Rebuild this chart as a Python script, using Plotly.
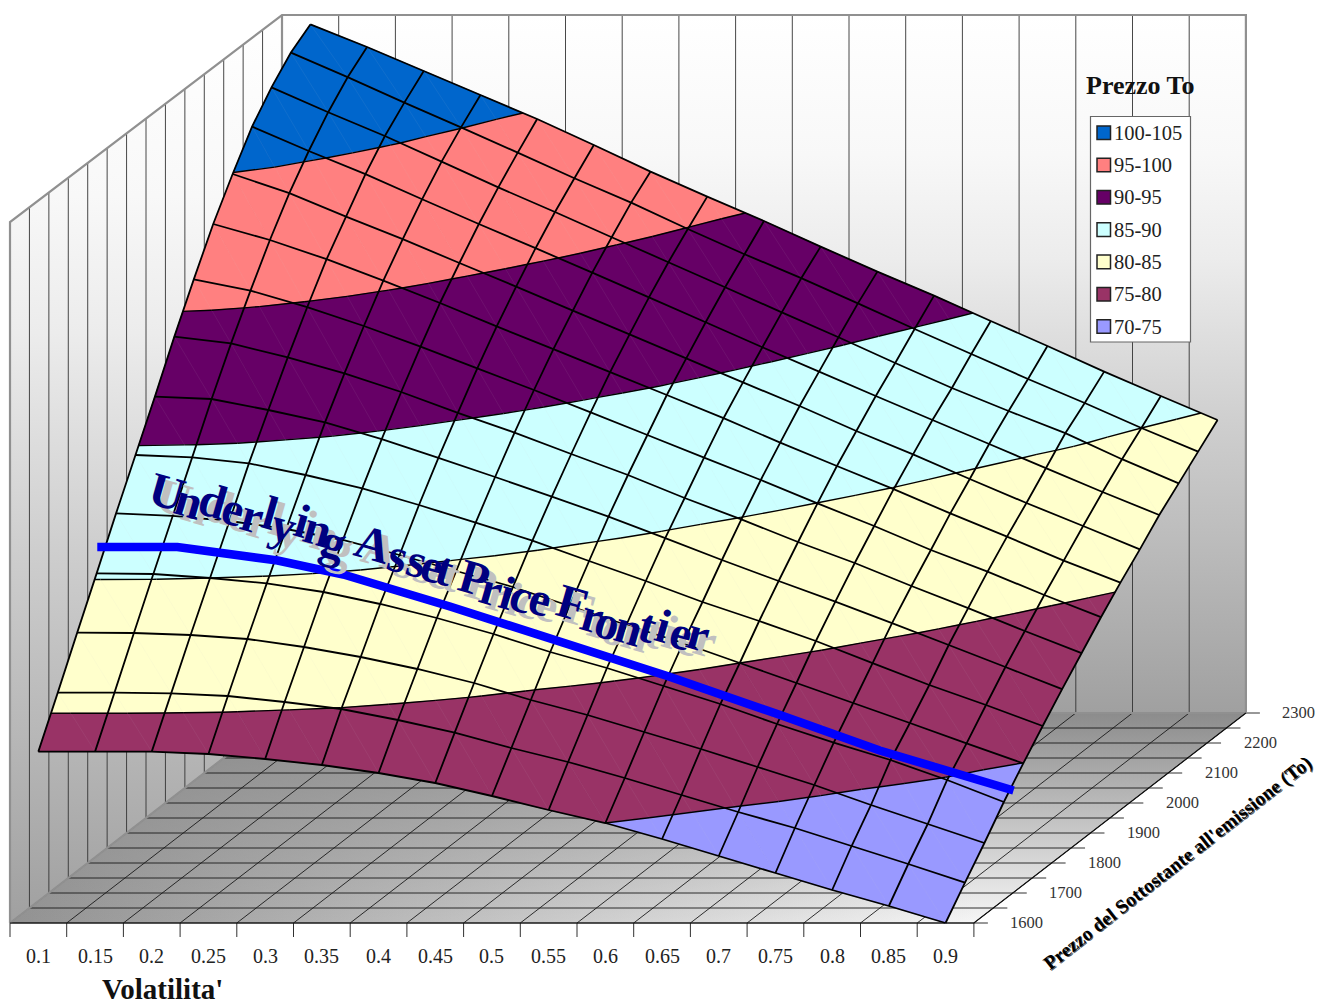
import plotly.graph_objects as go

# ---------- data ----------
volatility = [0.1, 0.15, 0.2, 0.25, 0.3, 0.35, 0.4, 0.45, 0.5, 0.55, 0.6, 0.65, 0.7, 0.75, 0.8, 0.85, 0.9]
vol_labels = ["0.1", "0.15", "0.2", "0.25", "0.3", "0.35", "0.4", "0.45", "0.5", "0.55", "0.6", "0.65", "0.7", "0.75", "0.8", "0.85", "0.9"]
underlying = [1600, 1650, 1700, 1750, 1800, 1850, 1900, 1950, 2000, 2050, 2100, 2150, 2200, 2250, 2300]
under_labels = [1600, 1700, 1800, 1900, 2000, 2100, 2200, 2300]

p1600 = [78.57, 78.57, 78.57, 78.45, 78.2, 77.9, 77.5, 77.0, 76.35, 75.65, 75.0, 74.2, 73.35, 72.5, 71.65, 70.85, 70.0]
p1650 = [80.77, 80.77, 80.73, 80.6, 80.3, 79.95, 79.4, 78.77, 78.0, 77.3, 76.5, 75.65, 74.8, 74.0, 73.1, 72.2, 71.27]
p1700 = [83.02, 83.0, 82.9, 82.7, 82.3, 81.8, 81.2, 80.5, 79.65, 78.9, 78.05, 77.2, 76.3, 75.4, 74.4, 73.45, 72.5]
p1750 = [85.23, 85.2, 85.0, 84.73, 84.3, 83.7, 83.0, 82.2, 81.3, 80.5, 79.6, 78.7, 77.7, 76.77, 75.9, 74.9, 73.8]
p1800 = [87.48, 87.36, 87.1, 86.7, 86.15, 85.4, 84.6, 83.8, 82.85, 81.9, 81.0, 80.0, 79.0, 78.0, 77.0, 75.98, 74.98]
p1850 = [89.65, 89.53, 89.23, 88.65, 87.98, 87.15, 86.27, 85.37, 84.35, 83.35, 82.3, 81.35, 80.35, 79.24, 78.15, 77.15, 76.1]
p1900 = [91.82, 91.7, 91.15, 90.53, 89.69, 88.76, 87.8, 86.82, 85.82, 84.74, 83.65, 82.6, 81.57, 80.49, 79.4, 78.3, 77.19]
p1950 = [94.07, 93.73, 93.03, 92.23, 91.3, 90.26, 89.27, 88.2, 87.15, 86.0, 84.93, 83.8, 82.75, 81.6, 80.49, 79.35, 78.24]
p2000 = [96.18, 95.62, 94.79, 93.85, 92.82, 91.73, 90.65, 89.53, 88.4, 87.27, 86.15, 84.98, 83.85, 82.65, 81.57, 80.4, 79.29]
p2050 = [98.2, 97.4, 96.44, 95.37, 94.25, 93.08, 91.94, 90.79, 89.65, 88.49, 87.27, 86.1, 84.94, 83.73, 82.57, 81.37, 80.27]
p2100 = [99.95, 98.99, 97.82, 96.69, 95.5, 94.32, 93.12, 91.93, 90.73, 89.53, 88.35, 87.1, 85.93, 84.7, 83.5, 82.35, 81.18]
p2150 = [101.57, 100.35, 99.19, 97.94, 96.7, 95.49, 94.27, 93.03, 91.79, 90.54, 89.32, 88.1, 86.9, 85.7, 84.49, 83.3, 82.15]
p2200 = [102.78, 101.54, 100.35, 99.07, 97.78, 96.55, 95.29, 94.04, 92.79, 91.53, 90.29, 89.0, 87.75, 86.6, 85.49, 84.19, 82.98]
p2250 = [103.77, 102.54, 101.27, 100.03, 98.77, 97.49, 96.27, 94.95, 93.69, 92.49, 91.23, 89.95, 88.7, 87.45, 86.25, 85.0, 83.82]
p2300 = [104.43, 103.3, 102.1, 100.9, 99.7, 98.4, 97.07, 95.82, 94.6, 93.32, 92.07, 90.87, 89.6, 88.35, 87.07, 85.85, 84.65]
price_rows = [p1600, p1650, p1700, p1750, p1800, p1850, p1900, p1950, p2000, p2050, p2100, p2150, p2200, p2250, p2300]

band_labels = ["100-105", "95-100", "90-95", "85-90", "80-85", "75-80", "70-75"]
band_low = [100, 95, 90, 85, 80, 75, 70]
band_colors = ["#0066CC", "#FF8080", "#660066", "#CCFFFF", "#FFFFCC", "#993366", "#9999FF"]

frontier_under = 1775
frontier_vol = [0.092, 0.1626, 0.251, 0.309, 0.403, 0.494, 0.596, 0.693, 0.782, 0.9]
frontier_price = [86.17, 86.17, 85.5, 84.8, 83.2, 81.6, 79.7, 77.8, 76.0, 74.0]

wordart = "Underlying Asset Price Frontier"
wordart_x = [167, 189, 213, 233, 252, 270, 284, 302, 318, 334, 0, 373, 398, 417, 432, 445, 0, 474, 491, 507, 521, 540, 0, 572, 592, 608, 629, 648, 663, 681, 698]
wordart_y = [491, 500, 500, 508, 515, 512, 525, 520, 528, 541, 0, 543, 555, 560, 565, 568, 0, 577, 588, 592, 595, 598, 0, 602, 615, 622, 627, 625, 625, 632, 633]

# ---------- oblique projection of the three chart axes onto the plot plane ----------
FX0, FY0 = 10.0, 923.0           # front-left floor corner
CELL = 56.7                      # width of one volatility category
DX, DY = 272.0, 210.0            # depth vector of the underlying axis
Z_PX = 20.0                      # height of one price point
ZMIN, ZMAX = 70.0, 105.0
NV = len(volatility)
NU = len(underlying)


def sx(col, row):
    return FX0 + CELL * (col + 0.5) + DX * row / (NU - 1)


def sy(row, z):
    return FY0 - DY * row / (NU - 1) - Z_PX * (z - ZMIN)


def wall_x(col, row):
    return FX0 + CELL * col + DX * row / (NU - 1)


def clip(poly, level, keep_above):
    out = []
    for a, b in zip(poly, poly[1:] + poly[:1]):
        ina = a[2] >= level if keep_above else a[2] <= level
        inb = b[2] >= level if keep_above else b[2] <= level
        if ina:
            out.append(a)
        if ina != inb:
            t = (level - a[2]) / (b[2] - a[2])
            out.append((a[0] + t * (b[0] - a[0]), a[1] + t * (b[1] - a[1]), level))
    return out


triangles = []
for r in range(NU - 1):
    for c in range(NV - 1):
        v00 = (c, r, price_rows[r][c])
        v10 = (c + 1, r, price_rows[r][c + 1])
        v01 = (c, r + 1, price_rows[r + 1][c])
        v11 = (c + 1, r + 1, price_rows[r + 1][c + 1])
        triangles.append([v00, v10, v01])
        triangles.append([v10, v11, v01])

fig = go.Figure()


def add_line(xs, ys, color="#222222", width=1.0, name=None):
    fig.add_trace(go.Scatter(x=xs, y=ys, mode="lines", line=dict(color=color, width=width, simplify=False),
                             hoverinfo="skip", showlegend=False, name=name))


# the plot's y axis runs downwards, so the gradients are listed bottom to top
wall_scale = [[0, "#a0a0a0"], [0.42, "#cfcfcf"], [0.65, "#ececec"], [0.8, "#f8f8f8"], [1, "#ffffff"]]
xl0, xl1 = wall_x(0, 0), wall_x(0, NU - 1)
TOPL, TOPB = 222.0, 15.0
BACKY = FY0 - DY
fig.add_trace(go.Scatter(x=[xl0, xl1, xl1, xl0, xl0], y=[TOPL, TOPB, BACKY, FY0, TOPL], mode="lines",
                         line=dict(width=0), fill="toself",
                         fillgradient=dict(type="vertical", colorscale=wall_scale),
                         hoverinfo="skip", showlegend=False))
xb1 = wall_x(NV, NU - 1)
fig.add_trace(go.Scatter(x=[xl1, xb1, xb1, xl1, xl1], y=[TOPB, TOPB, BACKY, BACKY, TOPB], mode="lines",
                         line=dict(width=0), fill="toself",
                         fillgradient=dict(type="vertical", colorscale=wall_scale),
                         hoverinfo="skip", showlegend=False))
xf1 = wall_x(NV, 0)
floor_x = [xl0, xf1, xb1, xl1, xl0]
floor_y = [FY0, FY0, BACKY, BACKY, FY0]
fig.add_trace(go.Scatter(x=floor_x, y=floor_y, mode="lines", line=dict(width=0), fill="toself",
                         fillgradient=dict(type="horizontal", colorscale=[[0, "#929292"], [0.78, "#f6f6f6"], [1, "#f6f6f6"]]),
                         hoverinfo="skip", showlegend=False))
fig.add_trace(go.Scatter(x=floor_x, y=floor_y, mode="lines", line=dict(width=0), fill="toself",
                         fillgradient=dict(type="vertical", colorscale=[[0, "rgba(140,140,140,0)"], [1, "rgba(140,140,140,1)"]]),
                         hoverinfo="skip", showlegend=False))

# wall and floor grid
xs, ys = [], []
for c in range(NV + 1):
    xs += [wall_x(c, NU - 1), wall_x(c, NU - 1), None]
    ys += [TOPB, BACKY, None]
for r in range(NU):
    t = r / (NU - 1)
    xs += [wall_x(0, r), wall_x(0, r), None]
    ys += [TOPL + (TOPB - TOPL) * t, sy(r, ZMIN), None]
add_line(xs, ys, "#333333", 0.9)
xs, ys = [], []
for c in range(NV + 1):
    xs += [wall_x(c, 0), wall_x(c, 0), None, wall_x(c, 0), wall_x(c, NU - 1), None]
    ys += [FY0, FY0 + 14, None, FY0, BACKY, None]
for r in range(NU):
    xs += [wall_x(0, r), wall_x(NV, r) + 14, None]
    ys += [sy(r, ZMIN), sy(r, ZMIN), None]
add_line(xs, ys, "#1a1a1a", 0.9)
add_line([xl0, xl0, xl1, xb1, xb1, xl1, xl0], [FY0, TOPL, TOPB, TOPB, BACKY, BACKY, FY0], "#909090", 2.2)
add_line([xl1, xl1], [TOPB, BACKY], "#909090", 2.2)
add_line([xl0, xf1, xb1], [FY0, FY0, BACKY], "#111111", 1.2)

# surface bands
for lab, low, col in zip(band_labels, band_low, band_colors):
    xs, ys = [], []
    for tri in triangles:
        poly = clip(tri, low, True)
        if poly:
            poly = clip(poly, low + 5, False)
        if len(poly) >= 3:
            for p in poly + poly[:1]:
                xs.append(sx(p[0], p[1]))
                ys.append(sy(p[1], p[2]))
            xs.append(None)
            ys.append(None)
    fig.add_trace(go.Scatter(x=xs, y=ys, mode="lines", fill="toself", fillcolor=col,
                             line=dict(color=col, width=0.6, simplify=False), name=lab,
                             hoverinfo="skip", showlegend=False))

# triangle seams
xs, ys = [], []
for r in range(NU - 1):
    for c in range(NV - 1):
        xs += [sx(c, r + 1), sx(c + 1, r), None]
        ys += [sy(r + 1, price_rows[r + 1][c]), sy(r, price_rows[r][c + 1]), None]
add_line(xs, ys, "rgba(200,200,200,0.16)", 0.5)

# band boundaries
xs, ys = [], []
for level in band_low[:-1]:
    for tri in triangles:
        pts = []
        for a, b in zip(tri, tri[1:] + tri[:1]):
            if (a[2] < level) != (b[2] < level):
                t = (level - a[2]) / (b[2] - a[2])
                pts.append((a[0] + t * (b[0] - a[0]), a[1] + t * (b[1] - a[1])))
        if len(pts) == 2:
            for p in pts:
                xs.append(sx(p[0], p[1]))
                ys.append(sy(p[1], level))
            xs.append(None)
            ys.append(None)
add_line(xs, ys, "#000000", 1.4)

# surface grid
xs, ys = [], []
for r in range(NU):
    for c in range(NV):
        xs.append(sx(c, r))
        ys.append(sy(r, price_rows[r][c]))
    xs.append(None)
    ys.append(None)
for c in range(NV):
    for r in range(NU):
        xs.append(sx(c, r))
        ys.append(sy(r, price_rows[r][c]))
    xs.append(None)
    ys.append(None)
add_line(xs, ys, "#000000", 1.8)

# frontier line
fx = [FX0 + CELL * ((v - volatility[0]) / 0.05 + 0.5) + DX * (frontier_under - underlying[0]) / (underlying[-1] - underlying[0]) for v in frontier_vol]
fy = [sy((frontier_under - underlying[0]) / 50.0, z) for z in frontier_price]
fig.add_trace(go.Scatter(x=fx, y=fy, mode="lines", line=dict(color="#0000FF", width=8.5),
                         hoverinfo="skip", showlegend=False, name="Underlying Asset Price Frontier"))

# ---------- text ----------
ann = []
SERIF = "Liberation Serif"
for c, lab in enumerate(vol_labels):
    ann.append(dict(x=wall_x(c, 0) + CELL / 2, y=956, text=lab, showarrow=False,
                    font=dict(family=SERIF, size=20, color="#222222")))
for u in under_labels:
    r = underlying.index(u)
    ann.append(dict(x=wall_x(NV, r) + 53, y=sy(r, ZMIN) - 1, text=str(u), showarrow=False,
                    font=dict(family=SERIF, size=16.5, color="#333333")))
ann.append(dict(x=162, y=989, text="Volatilita'", showarrow=False,
                font=dict(family=SERIF, size=29, color="#111111", weight="bold")))
for dx_, col_ in ((0.7, "#555555"), (0, "#000000")):
    ann.append(dict(x=1178 + dx_, y=863 + dx_, text="Prezzo del Sottostante all'emissione (To)", showarrow=False,
                    textangle=-38, font=dict(family=SERIF, size=19.5, color=col_, weight="bold")))
ann.append(dict(x=1140, y=85, text="Prezzo To", showarrow=False,
                font=dict(family=SERIF, size=26, color="#111111", weight="bold")))

for (ox, oy, colr) in ((7, 6, "#C0C0C0"), (0, 0, "#000080")):
    for ch, lx, ly in zip(wordart, wordart_x, wordart_y):
        if ch == " ":
            continue
        ann.append(dict(x=lx + ox, y=ly + oy, text=ch, showarrow=False, textangle=16,
                        font=dict(family=SERIF, size=48, color=colr, weight="bold")))

# ---------- legend ----------
shapes = [dict(type="rect", x0=1090.5, x1=1190.5, y0=116.5, y1=342, fillcolor="#ffffff",
               line=dict(color="#666666", width=1.2), layer="above")]
for k, (lab, col) in enumerate(zip(band_labels, band_colors)):
    cy = 132.7 + 32.3 * k
    shapes.append(dict(type="rect", x0=1097, x1=1110.5, y0=cy - 6.8, y1=cy + 6.8, fillcolor=col,
                       line=dict(color="#222222", width=1.5), layer="above"))
    ann.append(dict(x=1112, y=cy, text=lab, showarrow=False, xanchor="left",
                    font=dict(family=SERIF, size=20.5, color="#222222")))

fig.update_layout(width=1317, height=1008, margin=dict(l=0, r=0, t=0, b=0),
                  paper_bgcolor="#ffffff", plot_bgcolor="#ffffff", showlegend=False,
                  xaxis=dict(range=[0, 1317], visible=False, fixedrange=True),
                  yaxis=dict(range=[1008, 0], visible=False, fixedrange=True),
                  annotations=ann, shapes=shapes)
fig.write_html("out.html", config=dict(displayModeBar=False),
               post_script="document.body.style.margin='0';document.documentElement.style.overflow='hidden';")
